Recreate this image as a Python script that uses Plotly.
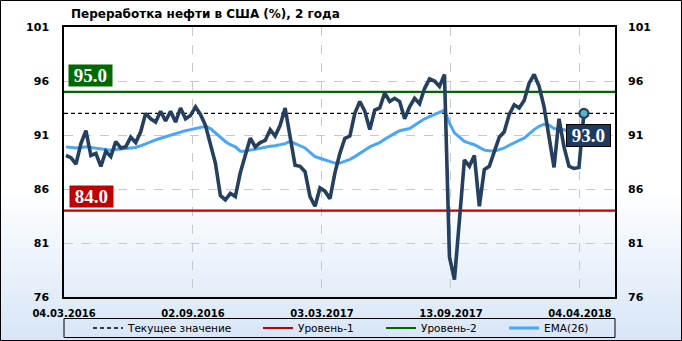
import plotly.graph_objects as go

# ---------------- data ----------------
title_text = "Переработка нефти в США (%), 2 года"
refining = [
    89.1, 88.9, 88.3, 90.2, 91.4, 89.1, 89.3, 88.1, 89.5, 89.0,
    90.4, 89.8, 89.9, 90.8, 90.3, 91.3, 93.0, 92.5, 92.2, 93.2,
    92.3, 93.2, 92.2, 93.5, 92.5, 92.8, 93.6, 92.9, 91.9, 90.2,
    88.4, 85.4, 85.0, 85.6, 85.3, 87.5, 89.2, 90.7, 89.9, 90.3,
    90.5, 91.5, 90.9, 91.9, 93.5, 90.7, 88.2, 88.1, 87.6, 85.3,
    84.4, 86.1, 85.8, 85.1, 87.5, 89.3, 90.7, 90.9, 93.0, 94.1,
    93.2, 91.5, 93.3, 93.5, 94.9, 94.1, 94.4, 94.1, 92.5, 93.6,
    94.4, 93.9, 95.3, 96.2, 96.0, 95.5, 96.6, 79.7, 77.6, 83.1,
    88.7, 88.1, 89.1, 84.4, 87.8, 88.1, 89.5, 90.8, 91.3, 92.9,
    93.8, 93.5, 94.2, 95.8, 96.6, 95.5, 93.6, 90.8, 88.0, 92.5,
    89.9, 88.1, 87.9, 88.0, 93.0,
]
ema26 = [
    89.9, 89.85, 89.8, 89.85, 89.9, 89.85, 89.8, 89.7, 89.7, 89.6,
    89.65, 89.7, 89.75, 89.8, 89.85, 90.0, 90.2, 90.4, 90.55, 90.7,
    90.85, 91.0, 91.15, 91.3, 91.4, 91.5, 91.6, 91.7, 91.8, 91.6,
    91.2, 90.8, 90.4, 90.1, 89.9, 89.5, 89.5, 89.6, 89.7, 89.8,
    89.85, 89.95, 90.0, 90.1, 90.2, 90.4, 90.2, 90.0, 89.8, 89.4,
    89.0, 88.85, 88.7, 88.55, 88.4, 88.4, 88.55, 88.75, 89.0, 89.3,
    89.6, 89.9, 90.1, 90.3, 90.6, 90.9, 91.15, 91.4, 91.5, 91.6,
    91.9, 92.2, 92.5, 92.7, 92.9, 93.1, 93.3, 92.1, 91.2, 90.8,
    90.4, 90.25, 90.1, 89.85, 89.6, 89.55, 89.5, 89.65, 89.8, 90.05,
    90.3, 90.5, 90.7, 91.1, 91.5, 91.8, 92.0, 91.9, 91.6, 91.55,
    91.5, 91.3, 91.1, 90.9, 91.1,
]
level1 = 84.0
level2 = 95.0
x_tick_labels = ["04.03.2016", "02.09.2016", "03.03.2017", "13.09.2017", "04.04.2018"]
x_tick_pos = [-0.4, 25.5, 51.4, 77.3, 103.2]
y_ticks = [76, 81, 86, 91, 96, 101]
legend_names = ["Текущее значение", "Уровень-1", "Уровень-2", "EMA(26)"]

# ---------------- layout geometry ----------------
W, H = 682, 341
ML, MR, MT, MB = 64, 67, 27, 44
PW, PH = W - ML - MR, H - MT - MB
X_RANGE = [-0.4, 110.24]


def px_x(p):
    return (p - ML) / PW


def px_y(p):
    return (H - MB - p) / PH


idx = list(range(len(refining)))
current = refining[-1]

NAVY = "#253f5f"
BLUE = "#4aa6f7"
RED = "#c00000"
GREEN = "#006a00"
FONT = "DejaVu Sans"
SERIF = "Liberation Serif"
NB = "\u00a0"

fig = go.Figure()

fig.add_trace(go.Scatter(x=X_RANGE, y=[current, current], mode="lines",
                         line=dict(color="black", width=1.3, dash="4px,3px"),
                         name=legend_names[0], legend="legend", hoverinfo="skip"))
fig.add_trace(go.Scatter(x=X_RANGE, y=[level1, level1], mode="lines",
                         line=dict(color=RED, width=2.2),
                         name=legend_names[1], legend="legend2", hoverinfo="skip"))
fig.add_trace(go.Scatter(x=X_RANGE, y=[level2, level2], mode="lines",
                         line=dict(color=GREEN, width=2.2),
                         name=legend_names[2], legend="legend3", hoverinfo="skip"))
fig.add_trace(go.Scatter(x=idx, y=ema26, mode="lines",
                         line=dict(color=BLUE, width=3),
                         name=legend_names[3], legend="legend4"))
fig.add_trace(go.Scatter(x=idx, y=refining, mode="lines",
                         line=dict(color=NAVY, width=3.6),
                         showlegend=False))
fig.add_trace(go.Scatter(x=[idx[-1]], y=[current], mode="markers",
                         marker=dict(size=9, color="#5ab4c8", line=dict(color=NAVY, width=2.2)),
                         showlegend=False))
fig.add_trace(go.Scatter(x=[idx[0]], y=[current], yaxis="y2", mode="markers",
                         marker=dict(opacity=0), showlegend=False, hoverinfo="skip"))

shapes = []
top_px, bot_px = 190, H
n = 40
c0 = (255, 255, 255)
c1 = (214, 229, 247)
shapes.append(dict(type="rect", xref="paper", yref="paper",
                   x0=px_x(0), x1=px_x(W), y0=px_y(top_px), y1=px_y(0),
                   fillcolor="white", line=dict(width=0), layer="below"))
for k in range(n):
    t = (k + 0.5) / n
    col = tuple(round(c0[j] + (c1[j] - c0[j]) * t) for j in range(3))
    y_a = top_px + (bot_px - top_px) * k / n
    y_b = top_px + (bot_px - top_px) * (k + 1) / n + 0.6
    shapes.append(dict(type="rect", xref="paper", yref="paper",
                       x0=px_x(0), x1=px_x(W), y0=px_y(y_b), y1=px_y(y_a),
                       fillcolor="rgb(%d,%d,%d)" % col, line=dict(width=0), layer="below"))
shapes.append(dict(type="rect", xref="paper", yref="paper",
                   x0=px_x(0.5), x1=px_x(W - 0.5), y0=px_y(H - 0.5), y1=px_y(0.5),
                   line=dict(color="black", width=1), layer="above"))
shapes.append(dict(type="rect", xref="paper", yref="paper",
                   x0=0, x1=1, y0=px_y(337.5), y1=px_y(318.5),
                   line=dict(color="black", width=1), layer="above"))


def box_text(v):
    return NB + "<b>%.1f</b>" % v + NB


annotations = [
    dict(xref="paper", yref="y", x=px_x(68), y=level2, xanchor="left", yanchor="bottom",
         yshift=5, text=box_text(level2), showarrow=False,
         font=dict(family=SERIF, size=19, color="white"), bgcolor=GREEN, borderpad=0),
    dict(xref="paper", yref="y", x=px_x(69), y=level1, xanchor="left", yanchor="bottom",
         yshift=3, text=box_text(level1), showarrow=False,
         font=dict(family=SERIF, size=19, color="white"), bgcolor=RED, borderpad=0),
    dict(xref="x", yref="y", x=idx[-1], y=current, xanchor="center", yanchor="top",
         xshift=5, yshift=-11, text=box_text(current), showarrow=False,
         font=dict(family=SERIF, size=19, color="white"), bgcolor="#1f3a5f",
         bordercolor="black", borderwidth=1, borderpad=0),
]

leg_common = dict(orientation="h", yanchor="middle", xanchor="left",
                  yref="container", y=1 - 328 / H,
                  bgcolor="rgba(0,0,0,0)", borderwidth=0,
                  font=dict(family=FONT, size=10.5, color="black"))

fig.update_layout(
    width=W, height=H,
    margin=dict(l=ML, r=MR, t=MT, b=MB, autoexpand=False),
    paper_bgcolor="white",
    plot_bgcolor="rgba(0,0,0,0)",
    title=dict(text="<b>" + title_text + "</b>", xref="container", yref="container",
               x=71 / W, xanchor="left", y=1 - 14 / H, yanchor="middle",
               font=dict(family=FONT, size=12, color="black")),
    xaxis=dict(range=X_RANGE, tickmode="array", tickvals=x_tick_pos, ticktext=x_tick_labels,
               showgrid=True, gridcolor="#c8c8c8", griddash="dash", gridwidth=1,
               showline=True, linecolor="black", linewidth=1.5, mirror=True,
               ticks="", zeroline=False, ticklabelstandoff=6,
               tickfont=dict(family=FONT, size=10, color="black", weight="bold")),
    yaxis=dict(range=[76, 101], tickmode="array", tickvals=y_ticks,
               showgrid=True, gridcolor="#c8c8c8", griddash="dash", gridwidth=1,
               showline=True, linecolor="black", linewidth=1.5, mirror=True,
               ticks="", zeroline=False, ticklabelstandoff=11,
               tickfont=dict(family=FONT, size=11, color="black", weight="bold")),
    yaxis2=dict(range=[76, 101], tickmode="array", tickvals=y_ticks, overlaying="y",
                side="right", showgrid=False, zeroline=False, showline=False, ticks="",
                ticklabelstandoff=12,
                tickfont=dict(family=FONT, size=11, color="black", weight="bold")),
    legend=dict(leg_common, x=px_x(88)),
    legend2=dict(leg_common, x=px_x(258)),
    legend3=dict(leg_common, x=px_x(381)),
    legend4=dict(leg_common, x=px_x(504)),
    shapes=shapes,
    annotations=annotations,
    hovermode=False,
)

fig.write_html("out.html")
